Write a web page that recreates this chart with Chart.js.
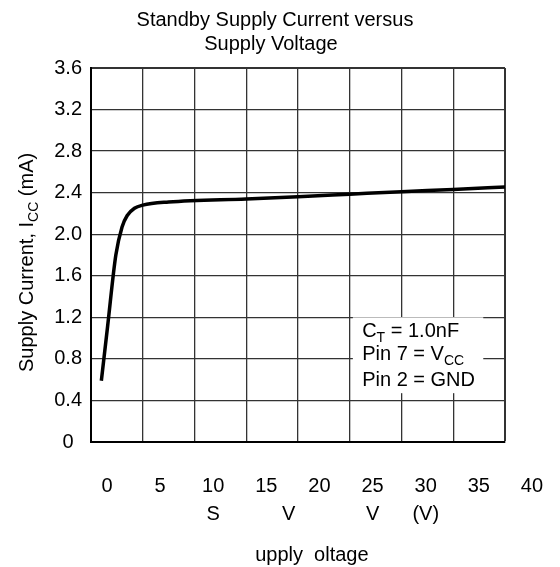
<!DOCTYPE html>
<html>
<head>
<meta charset="utf-8">
<script src="https://cdn.jsdelivr.net/npm/chart.js@4.4.1/dist/chart.umd.min.js"></script>
<style>
  html, body { margin: 0; padding: 0; background: #fff; }
</style>
</head>
<body>
<canvas id="myChart" width="560" height="567"></canvas>
<script>
// curve: supply voltage (V) vs standby current (mA)
const voltage = [1.0, 1.6, 2.4, 3.0, 3.5, 4.2, 5.0, 7.5, 15, 20, 25, 30, 35, 40];
const current = [0.59, 1.11, 1.80, 2.07, 2.18, 2.25, 2.28, 2.31, 2.34, 2.36, 2.385, 2.41, 2.43, 2.455];

const yTickValues = [0, 0.4, 0.8, 1.2, 1.6, 2.0, 2.4, 2.8, 3.2, 3.6];
const yTickLabels = ['0', '0.4', '0.8', '1.2', '1.6', '2.0', '2.4', '2.8', '3.2', '3.6'];
const xTickValues = [0, 5, 10, 15, 20, 25, 30, 35, 40];
const xTickLabels = ['0', '5', '10', '15', '20', '25', '30', '35', '40'];
const xSecondLine = ['', '', 'S', '        V', '', 'V', '(V)', '', ''];

const titleLines = ['Standby Supply Current versus', 'Supply Voltage'];
const xTitle = '     upply  oltage';
const yTitleRuns = [['Supply Current, I', false], ['CC', true], [' (mA)', false]];
const noteLines = [
    [['C', false], ['T', true], [' = 1.0nF', false]],
    [['Pin 7 = V', false], ['CC', true]],
    [['Pin 2 = GND', false]]
];

const FONT = '"Liberation Sans", Arial, Helvetica, sans-serif';
Chart.defaults.font.family = FONT;
Chart.defaults.color = '#000';

let myChart = null;

function drawRuns(c, runs, x, y) {
    runs.forEach(([txt, sub]) => {
        c.font = (sub ? '14px ' : '20px ') + FONT;
        c.fillText(txt, x, sub ? y + 5 : y);
        x += c.measureText(txt).width;
    });
}

const notesPlugin = {
    id: 'notes',
    afterDraw(chart) {
        const c = chart.ctx;
        const xs = chart.scales.x;
        const ys = chart.scales.y;
        c.save();
        c.fillStyle = '#000';
        c.textBaseline = 'alphabetic';

        // title
        c.textAlign = 'center';
        c.font = '20px ' + FONT;
        c.fillText(titleLines[0], 275, 26);
        c.fillText(titleLines[1], 271, 50);

        // y axis title with subscript
        c.textAlign = 'left';
        c.save();
        c.translate(33, 372);
        c.rotate(-Math.PI / 2);
        drawRuns(c, yTitleRuns, 0, 0);
        c.restore();

        // note box
        const bx0 = xs.getPixelForValue(25.3);
        const bx1 = xs.getPixelForValue(37.9);
        const by0 = ys.getPixelForValue(1.20);
        const by1 = ys.getPixelForValue(0.47);
        c.fillStyle = '#fff';
        c.fillRect(bx0, by0, bx1 - bx0, by1 - by0);
        c.fillStyle = '#000';
        const tx = xs.getPixelForValue(26.2);
        const rows = [1.011, 0.789, 0.539];
        noteLines.forEach((runs, i) => drawRuns(c, runs, tx, ys.getPixelForValue(rows[i])));
        c.restore();
    }
};

window.onload = () => {
    const ctx = document.getElementById('myChart').getContext('2d');

    myChart = new Chart(ctx, {
        type: 'line',
        data: {
            datasets: [{
                data: voltage.map((v, i) => ({ x: v, y: current[i] })),
                borderColor: '#000',
                borderWidth: 3.5,
                pointRadius: 0,
                cubicInterpolationMode: 'monotone',
                fill: false,
                xAxisID: 'x',
                yAxisID: 'y'
            }]
        },
        options: {
            responsive: false,
            animation: false,
            devicePixelRatio: 1,
            layout: { padding: { top: 68, right: 55, left: 0, bottom: 0 } },
            plugins: {
                legend: { display: false },
                title: { display: false },
                tooltip: { enabled: false }
            },
            scales: {
                x: {
                    type: 'linear',
                    position: 'bottom',
                    weight: 0,
                    min: 0,
                    max: 40,
                    ticks: { display: false, stepSize: 5 },
                    grid: {
                        color: '#333',
                        lineWidth: (c) => (c.tick && c.tick.value === 40) ? 2 : 1.3,
                        drawTicks: false
                    },
                    border: { color: '#000', width: 2 },
                    afterFit: (s) => { s.height = 0; s.paddingLeft = 0; s.paddingRight = 0; }
                },
                x2: {
                    type: 'linear',
                    position: 'bottom',
                    weight: 1,
                    min: -1.5,
                    max: 37.46,
                    grid: { display: false, drawTicks: false },
                    border: { display: false },
                    afterBuildTicks: (s) => { s.ticks = xTickValues.map(v => ({ value: v })); },
                    ticks: {
                        autoSkip: false,
                        maxRotation: 0,
                        padding: 30,
                        color: '#000',
                        font: { size: 20, lineHeight: 1.4 },
                        callback: (v, i) => xSecondLine[i] ? [xTickLabels[i], xSecondLine[i]] : xTickLabels[i]
                    },
                    title: {
                        display: true,
                        text: xTitle,
                        color: '#000',
                        font: { size: 20 },
                        padding: { top: 0, bottom: 0 }
                    },
                    afterFit: (s) => { s.height = 125; s.paddingLeft = 0; s.paddingRight = 0; }
                },
                y: {
                    min: 0,
                    max: 3.6,
                    afterBuildTicks: (s) => { s.ticks = yTickValues.map(v => ({ value: v })); },
                    ticks: {
                        padding: 9,
                        crossAlign: 'center',
                        color: '#000',
                        font: { size: 20 },
                        callback: (v, i) => yTickLabels[i]
                    },
                    grid: {
                        color: '#333',
                        lineWidth: (c) => (c.tick && c.tick.value === 3.6) ? 2 : 1.3,
                        drawTicks: false
                    },
                    border: { color: '#000', width: 2 },
                    afterFit: (s) => { s.width = 91; }
                }
            }
        },
        plugins: [notesPlugin]
    });
}
</script>
</body>
</html>
